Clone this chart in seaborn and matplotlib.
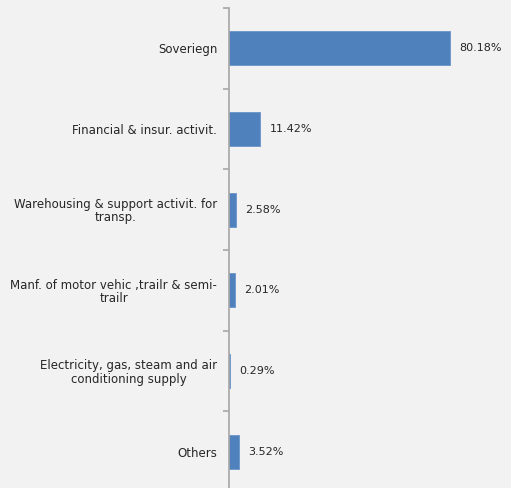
import numpy as np
import pandas as pd
import matplotlib.pyplot as plt
import seaborn as sns

sectors = ['Soveriegn', 'Financial & insur. activit.',
           'Warehousing & support activit. for\ntransp.',
           'Manf. of motor vehic ,trailr & semi-\ntrailr',
           'Electricity, gas, steam and air\nconditioning supply',
           'Others']
shares = [80.18, 11.42, 2.58, 2.01, 0.29, 3.52]

df = pd.DataFrame({'sector': sectors, 'share': shares})

sns.set_style('white')
plt.rcParams['font.family'] = ['DejaVu Sans']

fig = plt.figure(figsize=(5.11, 4.88), dpi=100, facecolor='#F2F2F2')
ax = fig.add_axes([229 / 511, -4 / 488, 1 - 229 / 511, 484 / 488])
ax.set_facecolor('#F2F2F2')

sns.barplot(data=df, x='share', y='sector', color='#4F81BD', saturation=1,
            width=0.42, edgecolor='#6A95C9', linewidth=0.6, ax=ax)

ax.set_xlim(0, 102.3)
ax.set_ylim(5.5, -0.5)
ax.set_xlabel('')
ax.set_ylabel('')
ax.set_xticks([])
for s in ['top', 'right', 'bottom']:
    ax.spines[s].set_visible(False)
ax.spines['left'].set_color('#A6A6A6')
ax.spines['left'].set_linewidth(1.2)

ax.tick_params(axis='y', which='major', left=False, length=0, pad=8.5,
               labelsize=8.5, labelcolor='#262626')
ax.set_yticks(np.arange(-0.5, 6, 1), minor=True)
ax.tick_params(axis='y', which='minor', left=True, direction='out', length=4,
               color='#A6A6A6', width=1.2)
for lbl in ax.get_yticklabels():
    lbl.set_multialignment('center')
    lbl.set_linespacing(1.0)

for i, v in enumerate(shares):
    ax.text(v + 3.3, i, f'{v:.2f}%', va='center', ha='left', fontsize=8, color='#262626')

fig.savefig('out.png', dpi=100, facecolor='#F2F2F2')
